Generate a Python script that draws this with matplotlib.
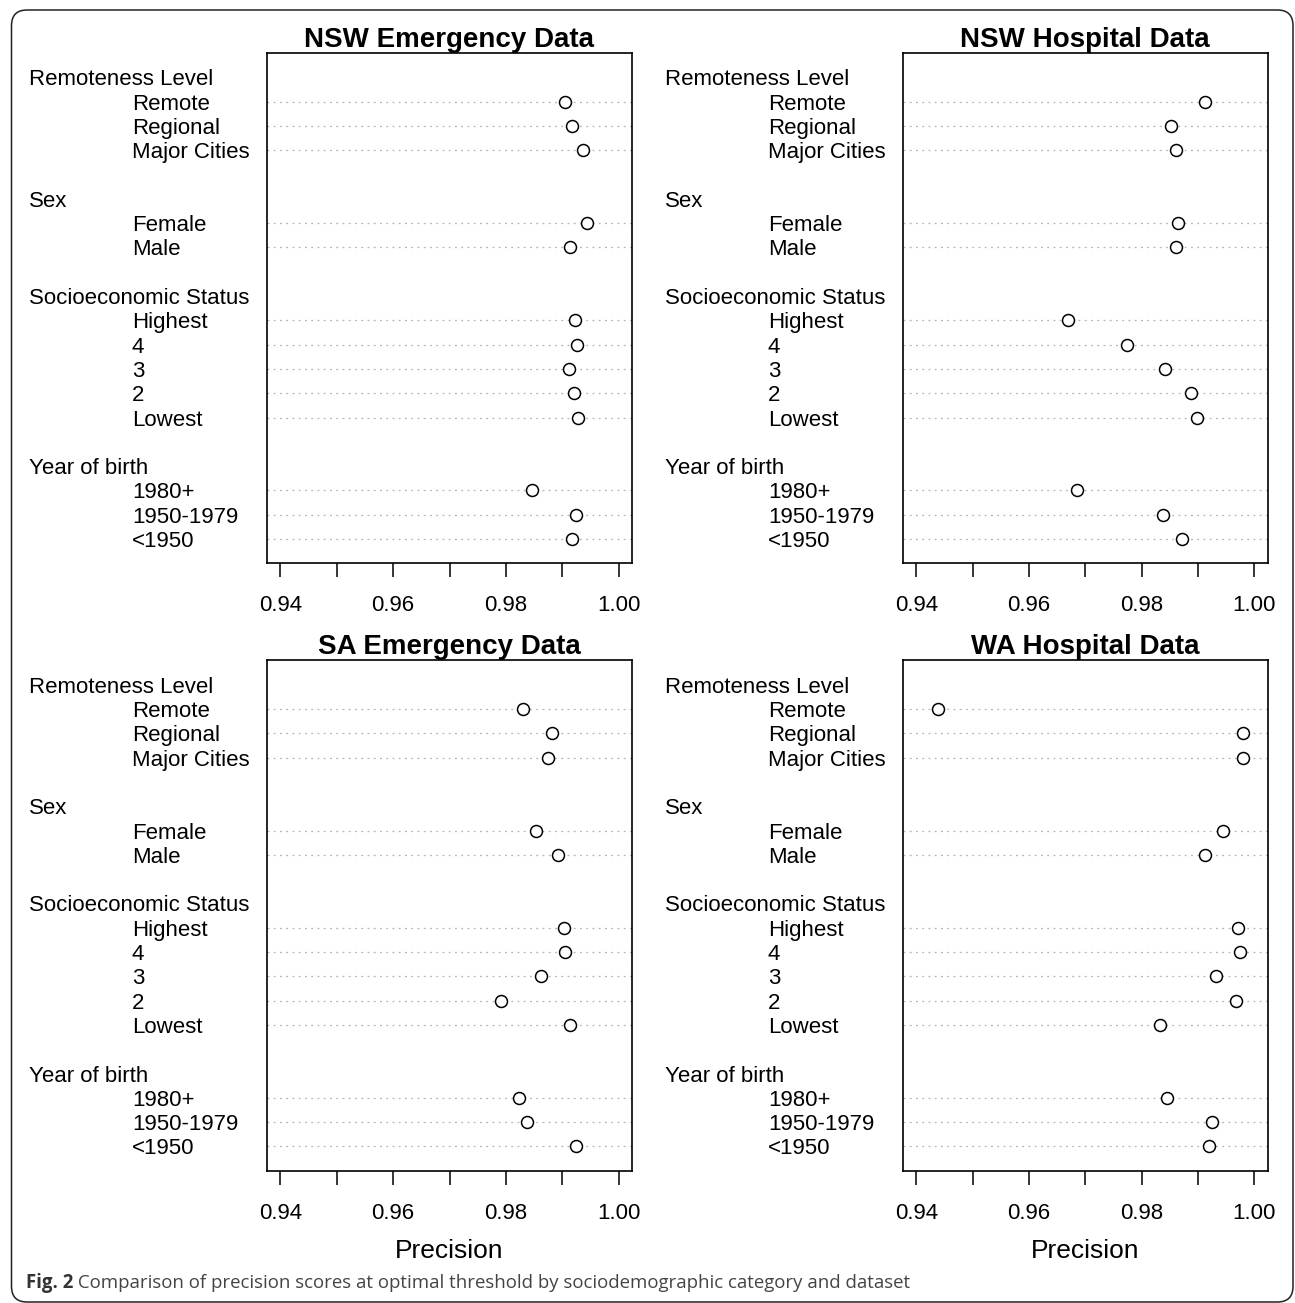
import matplotlib
matplotlib.use("Agg")
import matplotlib.pyplot as plt
from matplotlib.patches import FancyBboxPatch

plt.rcParams['font.family'] = ['Liberation Sans', 'DejaVu Sans']

# groups and categories (top to bottom, as drawn)
group_names = ["Remoteness Level", "Sex", "Socioeconomic Status", "Year of birth"]
group_items = [
    ["Remote", "Regional", "Major Cities"],
    ["Female", "Male"],
    ["Highest", "4", "3", "2", "Lowest"],
    ["1980+", "1950-1979", "<1950"],
]

# precision values, same order as the categories above
nsw_emergency = [0.9905, 0.9917, 0.9936, 0.9944, 0.9913,
                 0.9922, 0.9926, 0.9911, 0.9921, 0.9927,
                 0.9846, 0.9925, 0.9918]
nsw_hospital = [0.9912, 0.9852, 0.9861, 0.9864, 0.9862,
                0.9670, 0.9775, 0.9841, 0.9887, 0.9898,
                0.9685, 0.9839, 0.9871]
sa_emergency = [0.9831, 0.9882, 0.9875, 0.9854, 0.9893,
                0.9903, 0.9904, 0.9862, 0.9792, 0.9914,
                0.9824, 0.9837, 0.9925]
wa_hospital = [0.9439, 0.9981, 0.9981, 0.9945, 0.9913,
               0.9971, 0.9975, 0.9932, 0.9967, 0.9833,
               0.9846, 0.9926, 0.9919]

panel_titles = ["NSW Emergency Data", "NSW Hospital Data",
                "SA Emergency Data", "WA Hospital Data"]
panel_values = [nsw_emergency, nsw_hospital, sa_emergency, wa_hospital]

x_ticks = [0.94, 0.95, 0.96, 0.97, 0.98, 0.99, 1.00]
x_tick_labels = ["0.94", "", "0.96", "", "0.98", "", "1.00"]
x_label = "Precision"
caption_bold = "Fig. 2"
caption_text = " Comparison of precision scores at optimal threshold by sociodemographic category and dataset"

W, H = 1295, 1303
fig = plt.figure(figsize=(W / 100, H / 100), dpi=100)

# axes boxes in pixels: left, top, right, bottom
boxes = [(266.7, 53, 632.3, 563.4), (902.7, 53, 1267.7, 563.4),
         (266.7, 660.4, 632.3, 1170.7), (902.7, 660.4, 1267.7, 1170.7)]

# dotchart-like row positions (R dotchart layout)
group_pos = []
item_pos = []
pos = 20
for items in group_items:
    group_pos.append(pos)
    for _ in items:
        pos -= 1
        item_pos.append(pos)
    pos -= 2
item_labels = [it for items in group_items for it in items]

for k, (title, vals) in enumerate(zip(panel_titles, panel_values)):
    l, t, r, b = boxes[k]
    ax = fig.add_axes([l / W, 1 - b / H, (r - l) / W, (b - t) / H])
    for y in item_pos:
        ax.axhline(y, color='#b4b4b4', lw=0.9, ls=(0, (1.5, 3.5)), zorder=1)
    ax.plot(vals, item_pos, 'o', ms=8.6, mfc='white', mec='black', mew=1.1,
            ls='none', zorder=3)
    ax.set_xlim(0.94 - 0.0024, 1.00 + 0.0024)
    ax.set_ylim(0, 21)
    ax.set_yticks([])
    ax.set_xticks(x_ticks)
    ax.set_xticklabels(x_tick_labels, fontsize=16)
    ax.tick_params(axis='x', length=10, width=1.1, pad=13, direction='out')
    for s in ax.spines.values():
        s.set_linewidth(1.2)
    ax.set_title(title, fontsize=20, fontweight='bold', pad=4)
    for name, y in zip(group_names, group_pos):
        ax.annotate(name, xy=(0, y), xycoords=('axes fraction', 'data'),
                    xytext=(-171.5, 0), textcoords='offset points',
                    ha='left', va='center_baseline', fontsize=16)
    for name, y in zip(item_labels, item_pos):
        ax.annotate(name, xy=(0, y), xycoords=('axes fraction', 'data'),
                    xytext=(-97, 0), textcoords='offset points',
                    ha='left', va='center_baseline', fontsize=16)
    if k >= 2:
        ax.set_xlabel(x_label, fontsize=19, labelpad=11)

# outer rounded frame
frame = FancyBboxPatch((11.5 / W, 1 - 1302 / H), (1293 - 11.5) / W, (1302 - 10) / H,
                       boxstyle="round,pad=0,rounding_size=0.012",
                       transform=fig.transFigure, fill=False,
                       edgecolor='#222222', lw=1.1)
fig.add_artist(frame)

# caption
cap_y = 1 - 1288 / H
t1 = fig.text(26 / W, cap_y, caption_bold, fontsize=13.4, fontweight='bold',
              family=['Open Sans', 'DejaVu Sans'], color='#333333', va='baseline')
renderer = fig.canvas.get_renderer()
bb = t1.get_window_extent(renderer=renderer)
fig.text(bb.x1 / W, cap_y, caption_text, fontsize=13.4,
         family=['Open Sans', 'DejaVu Sans'], color='#444444', va='baseline')

fig.savefig("out.png", dpi=100)
